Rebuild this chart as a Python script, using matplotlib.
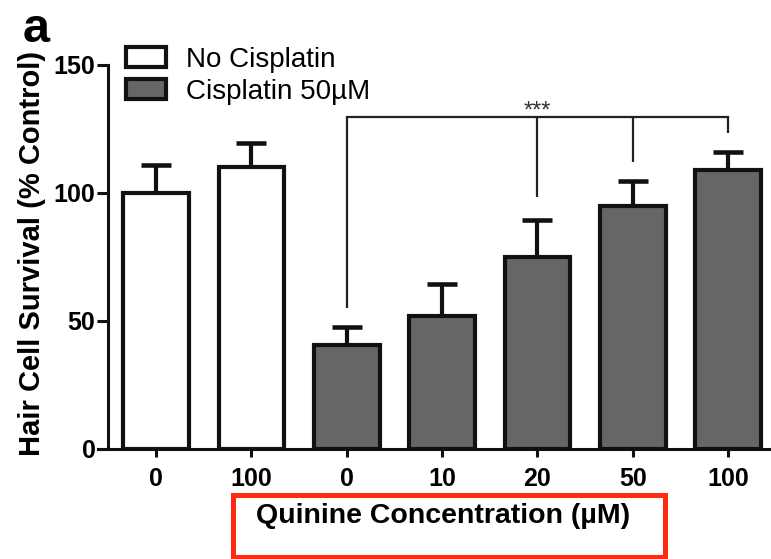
import numpy as np
import matplotlib
matplotlib.use("Agg")
import matplotlib.pyplot as plt
from matplotlib.patches import Rectangle

plt.rcParams['font.family'] = ['Liberation Sans', 'DejaVu Sans']

# quinine concentration (uM) for each bar and the group it belongs to
quinine_labels = ["0", "100", "0", "10", "20", "50", "100"]
cisplatin = [False, False, True, True, True, True, True]
survival = [100, 110, 40.5, 52, 75, 95, 109]
sem = [11, 9.5, 7, 12.5, 14.5, 9.7, 7]

# significance bracket: reference bar, compared bars, where each drop ends
ref_bar = 2
ref_drop_end = 55
cmp_bars = [4, 5, 6]
cmp_drop_ends = [98.5, 112, 123.5]
bracket_level = 129.5
bracket_text = "***"

legend_labels = ["No Cisplatin", "Cisplatin 50\u00b5M"]
white = "#ffffff"
grey = "#666666"

fig = plt.figure(figsize=(7.71, 5.59), dpi=100, facecolor='white')
ax = fig.add_axes([98/771., 110/559., 673/771., 384/559.])

x = np.arange(len(survival))
colors = [grey if c else white for c in cisplatin]
bars = ax.bar(x, survival, width=0.69, color=colors, edgecolor='#111111', linewidth=3, zorder=2)
ax.errorbar(x, survival, yerr=[np.zeros(len(sem)), sem], fmt='none', ecolor='#111111',
	elinewidth=3, capsize=11, capthick=3.3, zorder=1)

# bracket
lw_br = 1.6
ax.plot([ref_bar, ref_bar], [ref_drop_end, bracket_level], color='#222222', lw=lw_br, solid_capstyle='butt')
ax.plot([ref_bar, cmp_bars[-1]], [bracket_level, bracket_level], color='#222222', lw=lw_br, solid_capstyle='projecting')
for b, e in zip(cmp_bars, cmp_drop_ends):
	ax.plot([b, b], [e, bracket_level], color='#222222', lw=lw_br, solid_capstyle='butt')
ax.text(cmp_bars[0], bracket_level + 2.5, bracket_text, ha='center', va='center', fontsize=17, color='#333333')

ax.set_xlim(-0.61, 6.45)
ax.set_ylim(0, 150)
ax.set_yticks([0, 50, 100, 150])
ax.set_xticks(x)
ax.set_xticklabels(quinine_labels)
ax.spines['top'].set_visible(False)
ax.spines['right'].set_visible(False)
ax.spines['left'].set_position(('data', -0.505))
for s in ['left', 'bottom']:
	ax.spines[s].set_linewidth(2.2)
	ax.spines[s].set_color('#111111')
ax.tick_params(axis='y', length=8, width=2.2, pad=1, labelsize=18, color='#111111')
ax.tick_params(axis='x', length=6, width=2.2, pad=7, labelsize=18, color='#111111')
for lab in ax.get_xticklabels() + ax.get_yticklabels():
	lab.set_fontweight('bold')

ax.set_ylabel("Hair Cell Survival (% Control)", fontsize=21, fontweight='bold', va='center')
ax.yaxis.set_label_coords(-0.098, 0.51)
ax.set_xlabel("Quinine Concentration (\u00b5M)", fontsize=20.5, fontweight='bold', va='center')
ax.xaxis.set_label_coords(0.5126, -0.175)

leg = ax.legend([bars[0], bars[2]], legend_labels, loc='upper left',
	bbox_to_anchor=(126/771., 1 - 47/559.), bbox_transform=fig.transFigure,
	frameon=False, fontsize=20, borderpad=0, borderaxespad=0,
	handlelength=1.45, handleheight=0.72, handletextpad=0.72, labelspacing=0.2)

fig.text(23/771., 1 - 42/559., "a", fontsize=35, fontweight='bold', va='baseline', ha='left')

fig.patches.append(Rectangle((233/771., 2/559.), 432/771., 62/559., transform=fig.transFigure,
	fill=False, edgecolor='#ff2a0f', linewidth=3.6, figure=fig))

fig.savefig("out.png", dpi=100, facecolor='white')
